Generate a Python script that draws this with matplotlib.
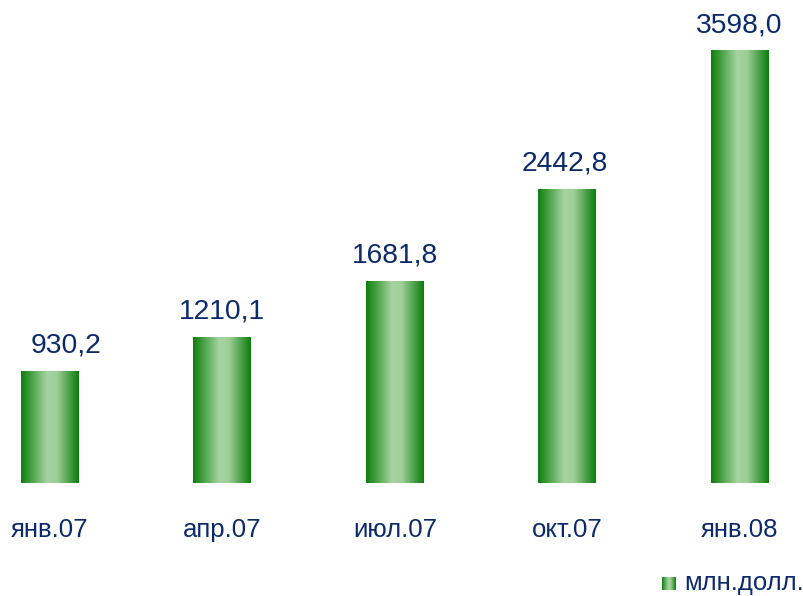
import numpy as np
import matplotlib
matplotlib.use("Agg")
import matplotlib.pyplot as plt
from matplotlib.colors import LinearSegmentedColormap

categories = ["янв.07", "апр.07", "июл.07", "окт.07", "янв.08"]
values = [930.2, 1210.1, 1681.8, 2442.8, 3598.0]
value_labels = ["930,2", "1210,1", "1681,8", "2442,8", "3598,0"]
legend_label = "млн.долл."

plt.rcParams["font.family"] = ["Liberation Sans", "DejaVu Sans"]
navy = "#0b2a6c"

grad = LinearSegmentedColormap.from_list(
    "bar", [(0.0, "#0b800b"), (0.45, "#a6d3a0"), (0.62, "#9fce98"), (1.0, "#0a7d0a")]
)
strip = np.linspace(0, 1, 256).reshape(1, -1)

fig = plt.figure(figsize=(8.04, 5.96), dpi=100)
ax = fig.add_axes([0, 0, 1, 1])
ax.axis("off")

width = 0.336
x = np.arange(len(categories))
bars = ax.bar(x, values, width=width, color="none", edgecolor="none")
for rect in bars:
    x0, y0 = rect.get_x(), rect.get_y()
    w, h = rect.get_width(), rect.get_height()
    ax.imshow(strip, cmap=grad, aspect="auto", extent=(x0, x0 + w, y0, y0 + h),
              interpolation="bicubic", zorder=2)

dx = [16, 0, 0, -2, 0]
for xi, v, lab, off in zip(x, values, value_labels, dx):
    ax.annotate(lab, (xi, v), xytext=(off * 0.72, 13.5), textcoords="offset points",
                ha="center", va="baseline", fontsize=20.3, color=navy)

for xi, cat in zip(x, categories):
    ax.annotate(cat, (xi, 0), xytext=(0, -34), textcoords="offset points",
                ha="center", va="center", fontsize=18.5, color=navy)

# legend
lax = fig.add_axes([662 / 804, 1 - 590 / 596, 14 / 804, 13 / 596])
lax.imshow(strip, cmap=grad, aspect="auto", interpolation="bicubic")
lax.axis("off")
fig.text(684 / 804, 1 - 583 / 596, legend_label, ha="left", va="center",
         fontsize=18.5, color=navy)

ax.set_xlim(-0.29, 4.374)
ax.set_ylim(-941, 4022)
fig.savefig("out.png", dpi=100)
